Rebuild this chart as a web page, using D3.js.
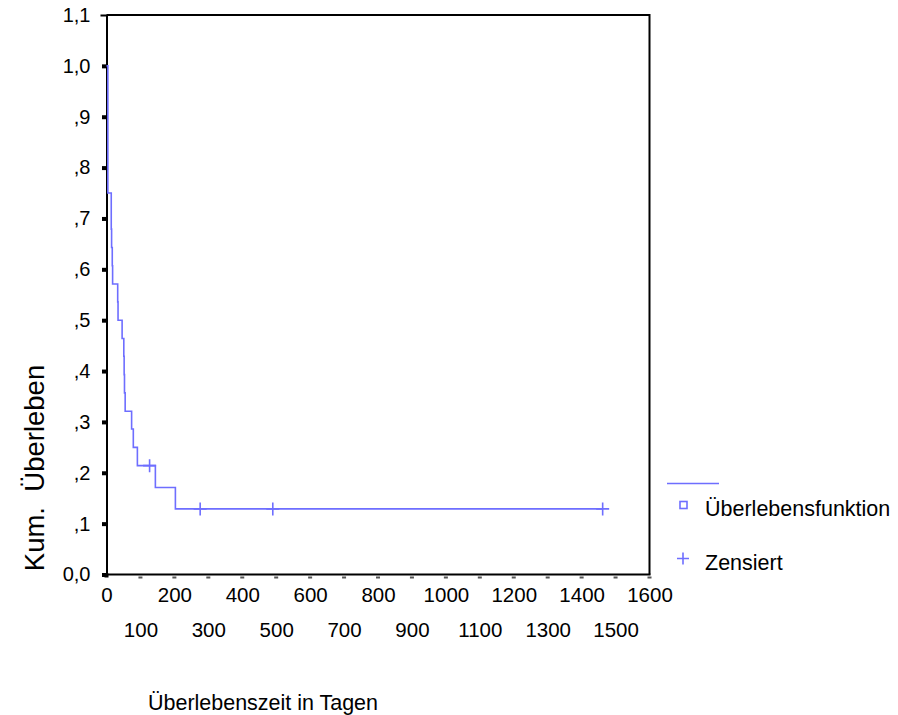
<!DOCTYPE html>
<html>
<head>
<meta charset="utf-8">
<script src="https://cdn.jsdelivr.net/npm/d3@7"></script>
<style>
  body { margin: 0; background: #fff; }
  text { font-family: "Liberation Sans", Arial, sans-serif; fill: #000; }
</style>
</head>
<body>
<script>
// Kaplan-Meier steps (days, cumulative survival)
var stepTimes    = [0, 4, 14, 15, 17, 18, 33, 34, 46, 51, 52, 53, 55, 74, 79, 91, 144, 203, 1462];
var stepSurvival = [1.0, 0.75, 0.679, 0.643, 0.607, 0.571, 0.536, 0.5, 0.464, 0.429, 0.393, 0.357, 0.321, 0.286, 0.25, 0.214, 0.171, 0.129, 0.129];

// censored observations
var censorTimes    = [127, 276, 490, 1462];
var censorSurvival = [0.214, 0.129, 0.129, 0.129];

// axis ticks
var yTicks = [0, 0.1, 0.2, 0.3, 0.4, 0.5, 0.6, 0.7, 0.8, 0.9, 1.0, 1.1];
var yTickLabels = ["0,0", ",1", ",2", ",3", ",4", ",5", ",6", ",7", ",8", ",9", "1,0", "1,1"];
var xTicks = [0, 100, 200, 300, 400, 500, 600, 700, 800, 900, 1000, 1100, 1200, 1300, 1400, 1500, 1600];

var legendLabels = ["Überlebensfunktion", "Zensiert"];

var blue = "#6e6eff";

var width = 898, height = 715;
var plot = {left: 106.5, right: 649.5, top: 15, bottom: 574.5};

var svg = d3.select("body").append("svg")
    .attr("width", width)
    .attr("height", height);

var x = d3.scaleLinear().domain([0, 1600]).range([plot.left, plot.right]);
var y = d3.scaleLinear().domain([0, 1.1]).range([plot.bottom, plot.top]);

// frame (top and right sides)
svg.append("path")
    .attr("d", "M" + plot.left + "," + plot.top + "H" + plot.right + "V" + plot.bottom)
    .attr("fill", "none")
    .attr("stroke", "#000")
    .attr("stroke-width", 2);

// y axis
var yAxis = svg.append("g")
    .attr("transform", "translate(" + plot.left + ",0)")
    .call(d3.axisLeft(y)
        .tickValues(yTicks)
        .tickSize(0)
        .tickPadding(16)
        .tickFormat(function(d, i) { return yTickLabels[i]; }));
yAxis.select(".domain").attr("stroke", "#000").attr("stroke-width", 2);
yAxis.selectAll(".tick text")
    .attr("font-size", "20px")
    .attr("fill", "#000")
    .style("font-family", "'Liberation Sans', Arial, sans-serif");
yAxis.selectAll(".tick").filter(function(d) { return d < 1.05; })
    .append("rect")
    .attr("x", -4.5).attr("y", -2)
    .attr("width", 5).attr("height", 4)
    .attr("fill", "#000");
yAxis.selectAll(".tick").filter(function(d) { return d > 1.05; })
    .append("rect")
    .attr("x", -6).attr("y", -1)
    .attr("width", 7).attr("height", 2)
    .attr("fill", "#000");

// x axis: even hundreds on the first row, odd on the second
svg.append("line")
    .attr("x1", plot.left - 1).attr("x2", plot.right + 1)
    .attr("y1", plot.bottom).attr("y2", plot.bottom)
    .attr("stroke", "#000")
    .attr("stroke-width", 2);

var xEven = svg.append("g")
    .attr("transform", "translate(0," + plot.bottom + ")")
    .call(d3.axisBottom(x)
        .tickValues(xTicks.filter(function(d) { return d % 200 === 0; }))
        .tickSize(0)
        .tickPadding(13)
        .tickFormat(d3.format("d")));

var xOdd = svg.append("g")
    .attr("transform", "translate(0," + plot.bottom + ")")
    .call(d3.axisBottom(x)
        .tickValues(xTicks.filter(function(d) { return d % 200 !== 0; }))
        .tickSize(0)
        .tickPadding(48)
        .tickFormat(d3.format("d")));

[xEven, xOdd].forEach(function(g) {
    g.select(".domain").remove();
    g.selectAll(".tick text")
        .attr("font-size", "20.5px")
        .attr("fill", "#000")
        .style("font-family", "'Liberation Sans', Arial, sans-serif");
});

// small tick dashes under the x axis
svg.append("g").selectAll("rect")
    .data(xTicks)
    .enter().append("rect")
    .attr("x", function(d) { return x(d) - 2; })
    .attr("y", function(d) { return d === 0 ? plot.bottom - 1 : plot.bottom + 2; })
    .attr("width", 4)
    .attr("height", function(d) { return d === 0 ? 4 : 2; })
    .attr("fill", function(d) { return d === 0 ? "#000" : "#555"; });

// survival curve
var steps = stepTimes.map(function(t, i) { return {t: t, s: stepSurvival[i]}; });
var line = d3.line()
    .x(function(d) { return x(d.t); })
    .y(function(d) { return y(d.s); })
    .curve(d3.curveStepAfter);

svg.append("path")
    .datum(steps)
    .attr("d", line)
    .attr("fill", "none")
    .attr("stroke", blue)
    .attr("stroke-width", 1.6);

// censor marks
var censors = censorTimes.map(function(t, i) { return {t: t, s: censorSurvival[i]}; });
svg.append("g").selectAll("path")
    .data(censors)
    .enter().append("path")
    .attr("d", function(d) {
        var cx = x(d.t), cy = y(d.s);
        return "M" + (cx - 6.5) + "," + cy + "H" + (cx + 6.5) +
               "M" + cx + "," + (cy - 6.5) + "V" + (cy + 6.5);
    })
    .attr("fill", "none")
    .attr("stroke", blue)
    .attr("stroke-width", 1.6);

// legend
var legend = svg.append("g");
legend.append("line")
    .attr("x1", 667).attr("x2", 719)
    .attr("y1", 483.5).attr("y2", 483.5)
    .attr("stroke", blue)
    .attr("stroke-width", 1.6);
legend.append("rect")
    .attr("x", 680).attr("y", 501.5)
    .attr("width", 7).attr("height", 7)
    .attr("fill", "none")
    .attr("stroke", blue)
    .attr("stroke-width", 1.6);
legend.append("path")
    .attr("d", "M677,558.5H689M683,552.5V564.5")
    .attr("fill", "none")
    .attr("stroke", blue)
    .attr("stroke-width", 1.6);
legend.append("text")
    .attr("x", 705).attr("y", 516)
    .attr("font-size", "21.5px")
    .text(legendLabels[0]);
legend.append("text")
    .attr("x", 705).attr("y", 570)
    .attr("font-size", "21.5px")
    .text(legendLabels[1]);

// axis titles
svg.append("text")
    .attr("x", 148).attr("y", 710)
    .attr("font-size", "21.5px")
    .attr("textLength", 230)
    .attr("lengthAdjust", "spacingAndGlyphs")
    .text("Überlebenszeit in Tagen");

svg.append("text")
    .attr("transform", "translate(44,468) rotate(-90)")
    .attr("text-anchor", "middle")
    .attr("font-size", "27.5px")
    .style("white-space", "pre")
    .text("Kum.  Überleben");
</script>
</body>
</html>
